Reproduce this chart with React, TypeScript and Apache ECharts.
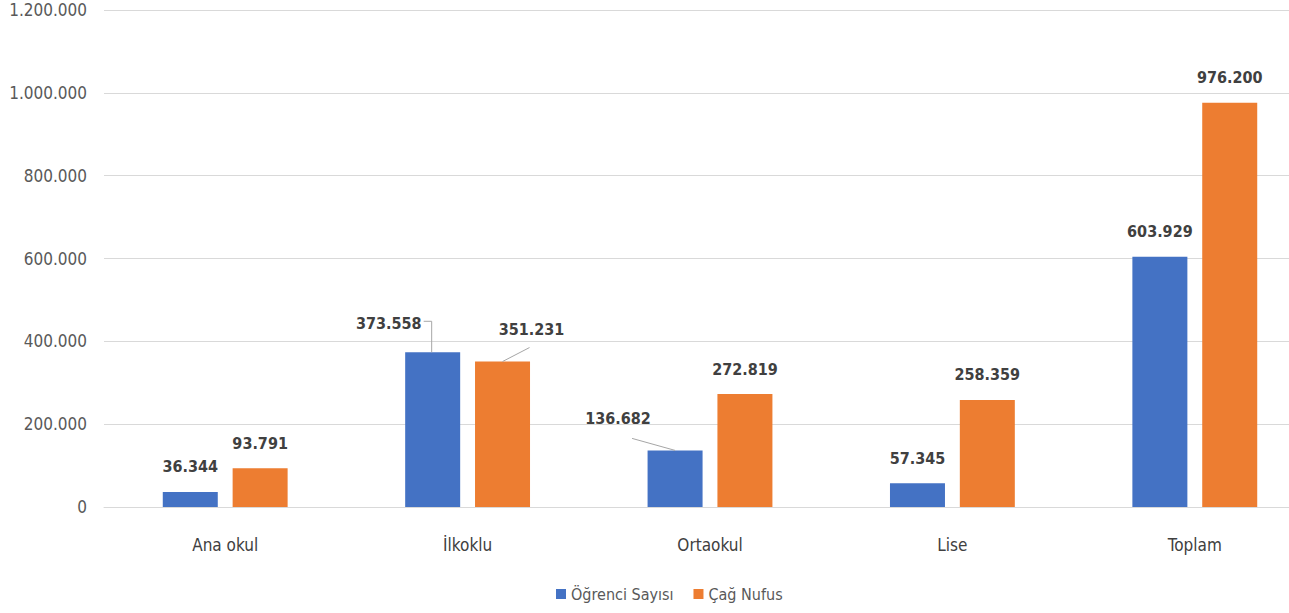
import React, { useEffect, useRef } from "react";
import * as echarts from "echarts";

const categories = ["Ana okul", "İlkoklu", "Ortaokul", "Lise", "Toplam"];
const ogrenciSayisi = [36344, 373558, 136682, 57345, 603929];
const cagNufus = [93791, 351231, 272819, 258359, 976200];
const seriesNames = ["Öğrenci Sayısı", "Çağ Nufus"];

const FONT = "'DejaVu Sans Condensed', 'Liberation Sans Narrow', 'Open Sans', sans-serif";

const fmt = (v: number) => {
  const s = Math.round(v).toString();
  return s.replace(/\B(?=(\d{3})+(?!\d))/g, ".");
};

// labels moved away from their bars (category index per series)
const blueOffsets: Record<number, [number, number]> = { 1: [-44, -4], 2: [-57, -7] };
const orangeOffsets: Record<number, [number, number]> = { 1: [29, -7] };

const BAR_W = 55;
const BAR_GAP = 0.27;

export default function App() {
  const ref = useRef<HTMLDivElement>(null);
  useEffect(() => {
    if (!ref.current) return;
    const chart = echarts.init(ref.current, undefined, { renderer: "svg" });
    const mk = (vals: number[], offs: Record<number, [number, number]>) =>
      vals.map((v, i) => (offs[i] ? { value: v, label: { offset: offs[i] } } : { value: v }));
    const labelStyle = {
      show: true,
      position: "top" as const,
      distance: 17,
      fontFamily: FONT,
      fontWeight: "bold" as const,
      fontSize: 16,
      color: "#404040",
      formatter: (p: any) => fmt(p.value),
    };
    // leader lines: [category index, value, series (0 blue / 1 orange)]
    const leaders: [number, number, number][] = [];
    Object.keys(blueOffsets).forEach((k) => leaders.push([+k, ogrenciSayisi[+k], 0]));
    Object.keys(orangeOffsets).forEach((k) => leaders.push([+k, cagNufus[+k], 1]));
    const half = (BAR_W + BAR_W * BAR_GAP) / 2;

    chart.setOption({
      animation: false,
      textStyle: { fontFamily: FONT },
      grid: { left: 104, right: 4, top: 10, bottom: 106 },
      legend: {
        bottom: 6,
        left: 551,
        itemWidth: 10,
        itemHeight: 10,
        itemGap: 20,
        icon: "rect",
        textStyle: { fontFamily: FONT, fontSize: 16, color: "#595959" },
        data: seriesNames,
      },
      xAxis: {
        type: "category",
        data: categories,
        axisTick: { show: false },
        axisLine: { lineStyle: { color: "#d9d9d9", width: 1 } },
        axisLabel: { fontFamily: FONT, fontSize: 17, color: "#404040", margin: 29 },
      },
      yAxis: {
        type: "value",
        min: 0,
        max: 1200000,
        interval: 200000,
        axisLabel: {
          fontFamily: FONT,
          fontSize: 17,
          color: "#595959",
          margin: 17,
          formatter: (v: number) => fmt(v),
        },
        splitLine: { lineStyle: { color: "#d9d9d9", width: 1 } },
      },
      series: [
        {
          name: seriesNames[0],
          type: "bar",
          data: mk(ogrenciSayisi, blueOffsets),
          barWidth: BAR_W,
          barGap: BAR_GAP * 100 + "%",
          itemStyle: { color: "#4472c4" },
          label: labelStyle,
        },
        {
          name: seriesNames[1],
          type: "bar",
          data: mk(cagNufus, orangeOffsets),
          barWidth: BAR_W,
          barGap: BAR_GAP * 100 + "%",
          itemStyle: { color: "#ed7d31" },
          label: labelStyle,
        },
        {
          name: "leaders",
          type: "custom",
          silent: true,
          z: 5,
          data: leaders,
          encode: { x: 0, y: 1 },
          renderItem: (params: any, api: any) => {
            const cat = api.value(0);
            const val = api.value(1);
            const s = api.value(2);
            const p = api.coord([cat, val]);
            const bc = p[0] + (s === 0 ? -half : half);
            const top = p[1];
            let points: number[][];
            if (s === 1) {
              points = [[bc, top], [bc + 27, top - 14]];
            } else if (cat === 1) {
              points = [[bc - 9, top - 31], [bc - 1, top - 31], [bc - 1, top]];
            } else {
              points = [[bc - 43, top - 12], [bc, top]];
            }
            return {
              type: "polyline",
              shape: { points },
              style: { stroke: "#a6a6a6", lineWidth: 1, fill: "none" },
            };
          },
        },
      ],
    });
    return () => chart.dispose();
  }, []);
  return (
    <div style={{ position: "absolute", left: 0, top: 0, width: 1289, height: 613, overflow: "hidden" }}>
      <div ref={ref} style={{ width: 1320, height: 613 }} />
    </div>
  );
}
